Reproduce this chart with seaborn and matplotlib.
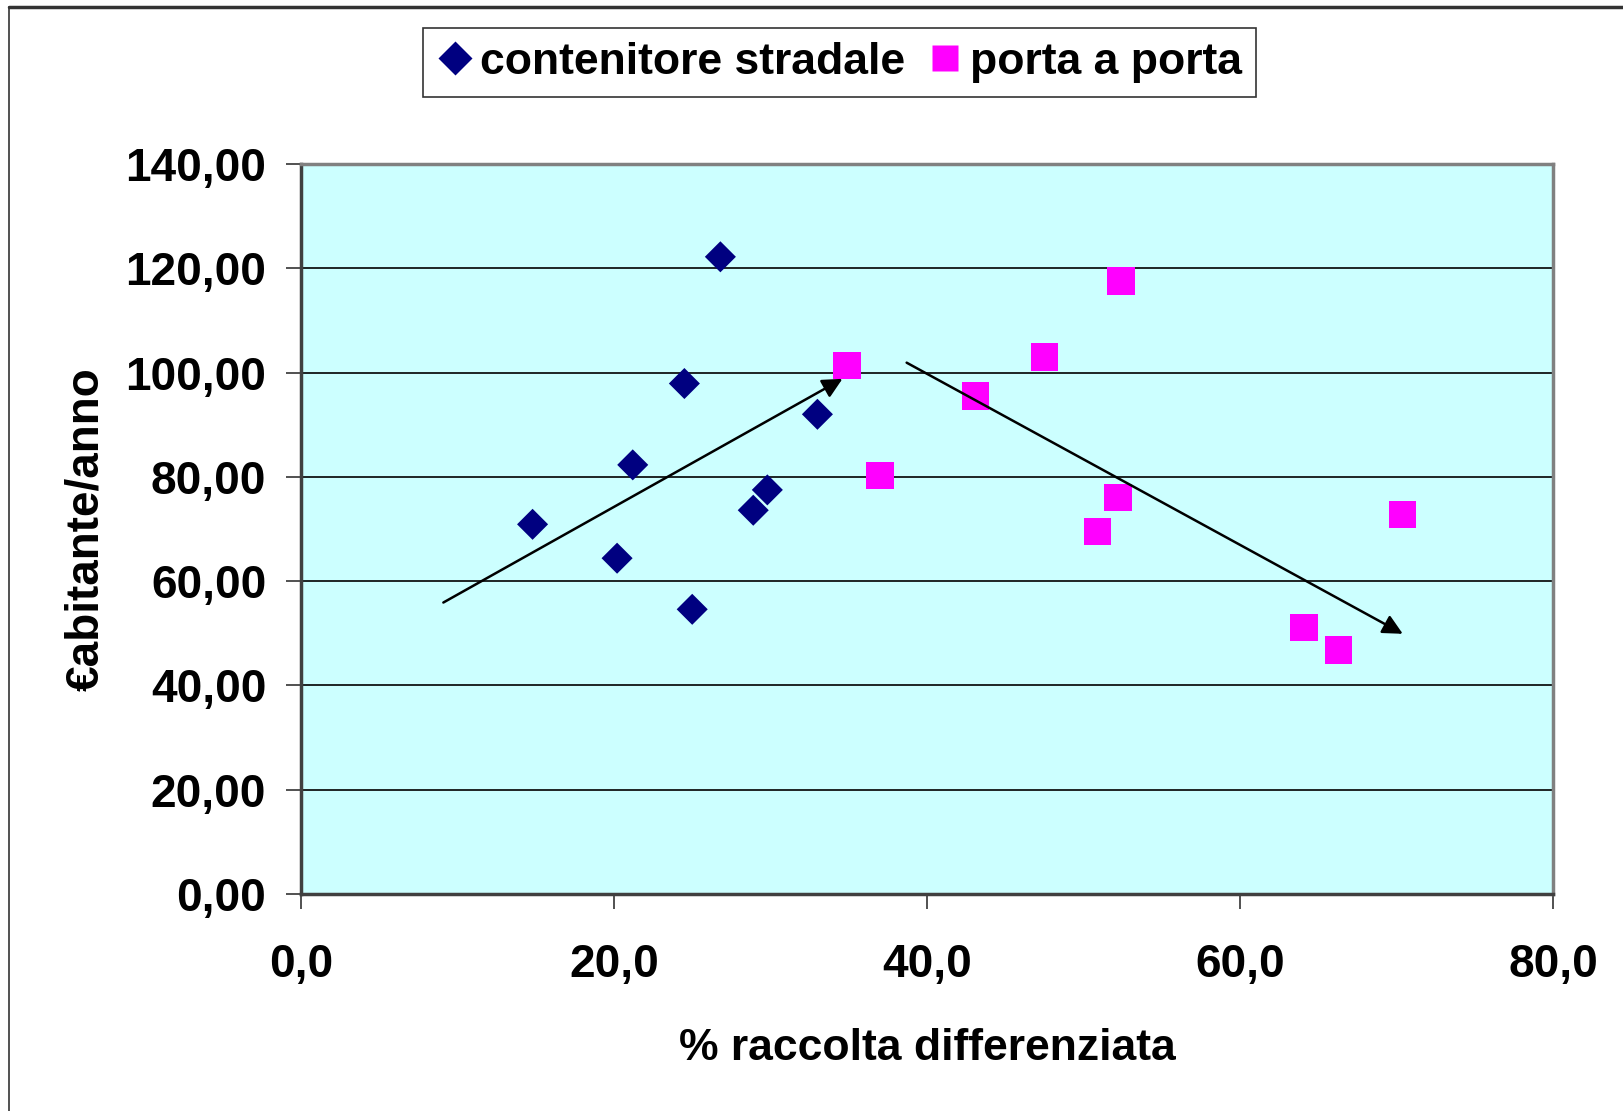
import matplotlib
matplotlib.use('Agg')
import matplotlib.pyplot as plt
import seaborn as sns
import pandas as pd
from matplotlib.lines import Line2D

# contenitore stradale (diamonds)
strad_x = [26.8, 24.5, 33.0, 21.2, 29.8, 28.9, 14.8, 20.2, 25.0]
strad_y = [122.2, 97.9, 92.0, 82.3, 77.5, 73.6, 70.9, 64.4, 54.6]

# porta a porta (squares)
pap_x = [34.9, 37.0, 43.1, 47.5, 52.4, 52.2, 50.9, 64.1, 66.3, 70.4]
pap_y = [101.4, 80.3, 95.5, 103.0, 117.6, 76.0, 69.5, 51.1, 46.8, 72.8]

# trend arrows: (x_start, y_start, x_end, y_end)
arrow_up = (9.1, 55.9, 34.6, 98.8)
arrow_down = (38.7, 101.9, 70.4, 49.9)

x_ticks = [0, 20, 40, 60, 80]
y_ticks = [0, 20, 40, 60, 80, 100, 120, 140]

df_strad = pd.DataFrame({'x': strad_x, 'y': strad_y})
df_pap = pd.DataFrame({'x': pap_x, 'y': pap_y})

sns.set_theme(style="white")
plt.rcParams['font.family'] = ['Liberation Sans', 'DejaVu Sans']
plt.rcParams['font.weight'] = 'bold'
plt.rcParams['text.color'] = 'black'
plt.rcParams['axes.labelcolor'] = 'black'
plt.rcParams['xtick.color'] = 'black'
plt.rcParams['ytick.color'] = 'black'

fig = plt.figure(figsize=(16.24, 11.11), dpi=100)
ax = fig.add_axes([0.1853, 0.1953, 0.9563 - 0.1853, 0.8524 - 0.1953])
ax.set_facecolor('#CCFFFF')

for yv in y_ticks[1:-1]:
    ax.axhline(yv, color='black', lw=1.2, zorder=1)

sns.scatterplot(data=df_strad, x='x', y='y', marker='D', s=250, color='#000080',
                edgecolor='none', ax=ax, zorder=3, label='contenitore stradale')
sns.scatterplot(data=df_pap, x='x', y='y', marker='s', s=390, color='#FF00FF',
                edgecolor='none', ax=ax, zorder=3, label='porta a porta')

for a in (arrow_up, arrow_down):
    ax.annotate('', xy=(a[2], a[3]), xytext=(a[0], a[1]),
                arrowprops=dict(arrowstyle='-|>', color='black', lw=1.8,
                                mutation_scale=30, shrinkA=0, shrinkB=0), zorder=4)

ax.set_xlim(0, 80)
ax.set_ylim(0, 140)
ax.set_xticks(x_ticks)
ax.set_yticks(y_ticks)
ax.set_xticklabels([f"{v:.1f}".replace('.', ',') for v in x_ticks])
ax.set_yticklabels([f"{v:.2f}".replace('.', ',') for v in y_ticks])
ax.tick_params(axis='both', labelsize=33, direction='out', length=11, width=1.2,
               color='#333333', labelcolor='black', bottom=True, left=True)
ax.tick_params(axis='x', pad=24)
ax.tick_params(axis='y', pad=14)
for lab in ax.get_xticklabels() + ax.get_yticklabels():
    lab.set_fontweight('bold')

ax.set_xlabel('% raccolta differenziata', fontsize=32, fontweight='bold', labelpad=30)
ax.set_ylabel('€abitante/anno', fontsize=33, fontweight='bold', labelpad=12)

ax.spines['top'].set_color('#808080')
ax.spines['right'].set_color('#808080')
ax.spines['left'].set_color('#404040')
ax.spines['bottom'].set_color('#404040')
for sp in ax.spines.values():
    sp.set_linewidth(2.5)
    sp.set_visible(True)

handles, labels = ax.get_legend_handles_labels()
ax.get_legend().remove()
leg_handles = [Line2D([0], [0], marker='D', color='none', markerfacecolor='#000080',
                      markeredgecolor='none', markersize=17),
               Line2D([0], [0], marker='s', color='none', markerfacecolor='#FF00FF',
                      markeredgecolor='none', markersize=19)]
leg = fig.legend(leg_handles, labels, loc='center', bbox_to_anchor=(0.517, 0.9437),
                 ncol=2, fontsize=32, frameon=True, fancybox=False, handlelength=0.8,
                 handletextpad=0.15, columnspacing=0.5, borderpad=0.32, borderaxespad=0)
leg.get_frame().set_edgecolor('black')
leg.get_frame().set_linewidth(1.2)
for t in leg.get_texts():
    t.set_fontweight('bold')

# outer chart frame (top and left edges visible)
fig.add_artist(Line2D([9 / 1624, 1.0], [1 - 7 / 1111, 1 - 7 / 1111],
                      transform=fig.transFigure, color='#333333', lw=2.5))
fig.add_artist(Line2D([9 / 1624, 9 / 1624], [0, 1 - 7 / 1111],
                      transform=fig.transFigure, color='#333333', lw=1.2))

fig.savefig('out.png', dpi=100)
